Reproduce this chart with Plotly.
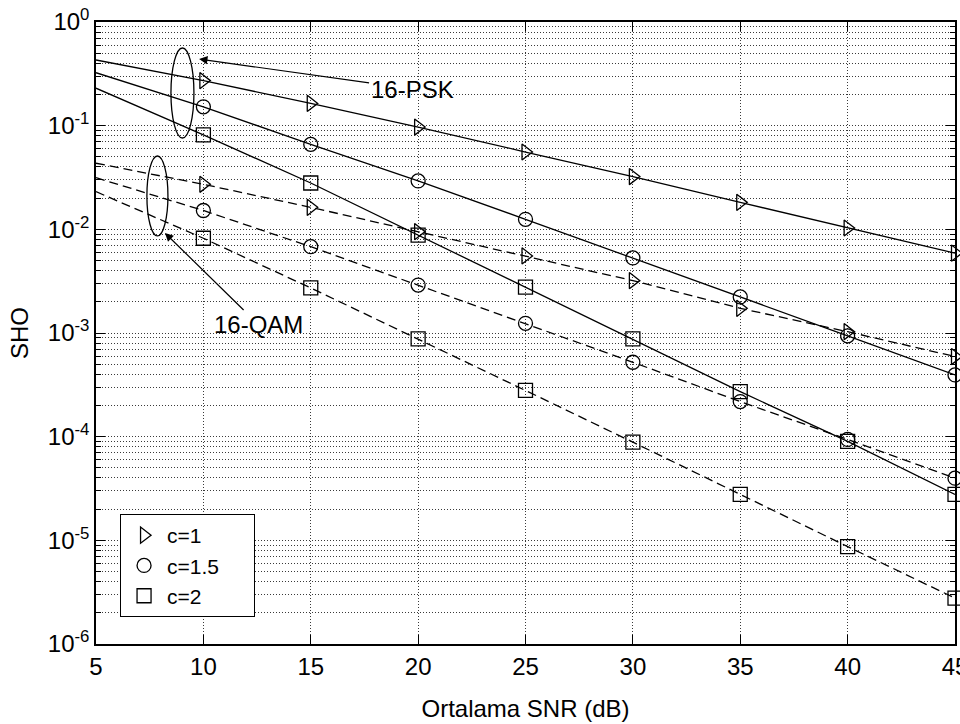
import plotly.graph_objects as go

# ---- data ----
snr = [5, 10, 15, 20, 25, 30, 35, 40, 45]
marker_snr = [10, 15, 20, 25, 30, 35, 40, 45]

psk_c1 = [0.43, 0.272, 0.164, 0.097, 0.0557, 0.0323, 0.0182, 0.0103, 0.0059]
psk_c15 = [0.324, 0.152, 0.066, 0.0293, 0.0125, 0.0053, 0.00223, 0.00094, 0.000394]
psk_c2 = [0.23, 0.0814, 0.028, 0.0088, 0.00277, 0.000877, 0.000272, 9.0e-5, 2.77e-5]

qam_c1 = [0.0434, 0.0272, 0.0163, 0.0095, 0.00554, 0.0032, 0.00173, 0.00103, 0.000593]
qam_c15 = [0.0315, 0.0152, 0.0068, 0.0029, 0.00124, 0.000522, 0.000218, 9.4e-5, 3.98e-5]
qam_c2 = [0.0231, 0.0082, 0.00272, 0.000877, 0.000279, 8.85e-5, 2.77e-5, 8.7e-6, 2.77e-6]

labels = ["c=1", "c=1.5", "c=2"]
symbols = ["triangle-right-open", "circle-open", "square-open"]
ytick_vals = [1e-6, 1e-5, 1e-4, 1e-3, 1e-2, 1e-1, 1]
ytick_text = ["10<sup>-6</sup>", "10<sup>-5</sup>", "10<sup>-4</sup>", "10<sup>-3</sup>",
              "10<sup>-2</sup>", "10<sup>-1</sup>", "10<sup>0</sup>"]
xtick_vals = [5, 10, 15, 20, 25, 30, 35, 40, 45]

FONT = "Arial, Liberation Sans, Helvetica, sans-serif"
FS = 24
PAD = "&nbsp;" * 5
fig = go.Figure()

groups = [
    ("solid", [psk_c1, psk_c15, psk_c2], True),
    ("9px,5px", [qam_c1, qam_c15, qam_c2], False),
]
for dash, series, show in groups:
    for i, ys in enumerate(series):
        fig.add_trace(go.Scatter(
            x=snr, y=ys, mode="lines",
            line=dict(color="black", width=1.3, dash=dash),
            showlegend=False, hoverinfo="skip"))
        fig.add_trace(go.Scatter(
            x=marker_snr, y=ys[1:], mode="markers",
            marker=dict(symbol=symbols[i], size=14, color="black",
                        line=dict(color="black", width=1.3)),
            name=labels[i] + PAD, showlegend=show, legendgroup=labels[i],
            cliponaxis=False))

grid_col = "#3a3a3a"
fig.update_xaxes(
    range=[5, 45], tickvals=xtick_vals, ticks="inside", ticklen=9,
    tickwidth=1, tickcolor="black", ticklabeloverflow="allow", automargin=False,
    showline=True, linecolor="black", linewidth=1.5, mirror="ticks",
    showgrid=True, gridcolor=grid_col, griddash="1px,2px", gridwidth=1,
    zeroline=False, tickfont=dict(size=FS, color="black"),
    title=dict(text="Ortalama SNR (dB)", font=dict(size=FS, color="black"), standoff=22),
)
fig.update_yaxes(
    type="log", range=[-6, 0], tickvals=ytick_vals, ticktext=ytick_text,
    ticks="inside", ticklen=9, tickwidth=1, tickcolor="black", automargin=False,
    showline=True, linecolor="black", linewidth=1.5, mirror="ticks",
    showgrid=True, gridcolor=grid_col, griddash="1px,2px", gridwidth=1,
    minor=dict(dtick="D1", ticks="inside", ticklen=5, tickcolor="black",
               showgrid=True, gridcolor=grid_col, griddash="1px,2px", gridwidth=1),
    zeroline=False, tickfont=dict(size=FS, color="black"),
    title=dict(text="SHO", font=dict(size=FS, color="black"), standoff=12),
)

# ellipses grouping the curves
fig.add_shape(type="circle", xref="x", yref="y", x0=8.49, x1=9.56, y0=0.076, y1=0.561,
              line=dict(color="black", width=1.3))
fig.add_shape(type="circle", xref="x", yref="y", x0=7.37, x1=8.35, y0=0.00863, y1=0.051,
              line=dict(color="black", width=1.3))

# arrows with labels (annotation y on log axis is log10)
fig.add_annotation(x=9.8, y=-0.357, xref="x", yref="y", text="16-PSK",
                   showarrow=True, arrowhead=2, arrowsize=1.4, arrowwidth=1.2,
                   arrowcolor="black", ax=213, ay=30, axref="pixel", ayref="pixel",
                   font=dict(size=FS, color="black"))
fig.add_annotation(x=8.21, y=-2.035, xref="x", yref="y", text="16-QAM",
                   showarrow=True, arrowhead=2, arrowsize=1.4, arrowwidth=1.2,
                   arrowcolor="black", ax=94, ay=92, axref="pixel", ayref="pixel",
                   font=dict(size=FS, color="black"))

fig.update_layout(
    width=960, height=724,
    margin=dict(l=96, r=5, t=22, b=80),
    paper_bgcolor="white", plot_bgcolor="white",
    font=dict(family=FONT, size=FS, color="black"),
    legend=dict(x=0.028, y=0.209, xanchor="left", yanchor="top",
                bgcolor="white", bordercolor="black", borderwidth=1,
                font=dict(size=21, color="black"), tracegroupgap=0,
                itemwidth=36),
)

fig.write_html("out.html")
